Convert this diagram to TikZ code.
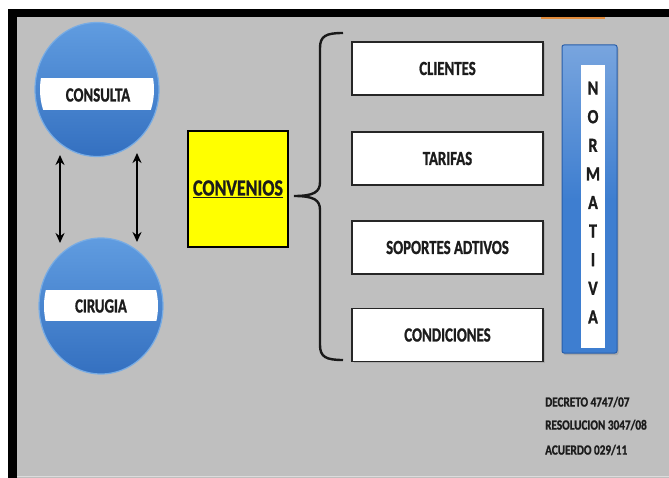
\documentclass[tikz,border=0pt]{standalone}
\usepackage{fontspec}
\usepackage{graphicx}
\setmainfont{Carlito}[BoldFeatures={FakeBold=1.3}]
\usetikzlibrary{shapes.geometric,arrows.meta,shadows}

\definecolor{bggray}{RGB}{191,191,191}
\definecolor{disctop}{RGB}{96,156,224}
\definecolor{discbot}{RGB}{52,112,192}
\definecolor{discrim}{RGB}{120,172,228}
\definecolor{barblue}{RGB}{62,126,208}
\definecolor{baredge}{RGB}{40,94,170}
\definecolor{markorange}{RGB}{226,140,60}
\definecolor{conyellow}{RGB}{255,255,0}
\definecolor{inkdark}{RGB}{28,28,28}

% horizontally condensed label text
\newcommand{\sqz}[2][0.74]{\scalebox{#1}[1]{#2}}

\begin{document}
\begin{tikzpicture}[x=1pt,y=-1pt,
  disc/.style={ellipse, inner sep=0pt, minimum width=124pt, minimum height=134pt,
    top color=disctop, bottom color=discbot, draw=discrim, line width=1.2pt},
  disclabel/.style={font=\bfseries\fontsize{20}{20}\selectfont, text=inkdark, inner sep=0pt},
  itembox/.style={draw=black!85, line width=1.6pt, fill=white, minimum width=191pt,
    minimum height=53pt, inner sep=0pt, font=\bfseries\fontsize{20}{20}\selectfont,
    text=inkdark, drop shadow={opacity=0.3, shadow xshift=1.5pt, shadow yshift=-1.5pt}},
  linkarrow/.style={line width=2pt, {Stealth[length=10pt,width=9pt]}-{Stealth[length=10pt,width=9pt]}},
  lawtext/.style={anchor=west, inner sep=0pt, font=\bfseries\fontsize{14}{14}\selectfont, text=inkdark}
]
\useasboundingbox (0,0) rectangle (669,478);

% page, frame and grey slide area
\fill[white] (0,0) rectangle (669,478);
\fill[black] (8,9) rectangle (669,478);
\fill[bggray] (17,17) rectangle (669,478);
\draw[white!45!bggray, line width=1pt] (17,476.5) -- (669,476.5);
\draw[markorange, line width=2pt] (541,18) -- (605,18);

% the two round badges with their white bands
\node[disc] (consulta) at (97,89.5) {};
\begin{scope}
  \clip (97,89.5) ellipse [x radius=57, y radius=62];
  \fill[white] (30,78) rectangle (170,110);
\end{scope}
\node[disclabel] (consultaT) at (98,95) {\sqz{CONSULTA}};

\node[disc, minimum height=136pt] (cirugia) at (101,306) {};
\begin{scope}
  \clip (101,306) ellipse [x radius=57, y radius=63];
  \fill[white] (30,290) rectangle (170,321);
\end{scope}
\node[disclabel] (cirugiaT) at (101,306) {\sqz{CIRUGIA}};

% two-way links between the badges
\coordinate (la) at (60,155);
\coordinate (lb) at (60,243);
\coordinate (ra) at (137,153);
\coordinate (rb) at (137,242);
\draw[linkarrow] (la) -- (lb);
\draw[linkarrow] (ra) -- (rb);

% central yellow box
\node[draw=black, line width=1.2pt, fill=conyellow, minimum width=100pt, minimum height=116pt,
      inner sep=0pt, font=\bfseries\fontsize{23}{23}\selectfont, text=inkdark] (convenios)
      at (238,189) {\sqz[0.78]{\underline{CONVENIOS}}};

% curly brace
\coordinate (bt) at (343,33);
\coordinate (bb) at (343,360);
\coordinate (btip) at (294,196);
\draw[line width=2.4pt, black!90] (bt) .. controls (326,33) and (320,36) .. (320,48)
  -- (320,182) .. controls (320,192) and (314,196) .. (btip)
  (btip) .. controls (314,196) and (320,200) .. (320,210)
  -- (320,345) .. controls (320,357) and (326,360) .. (bb);

% item boxes
\node[itembox] (clientes) at (447.5,68.5) {\sqz{CLIENTES}};
\node[itembox] (tarifas) at (447.5,158.5) {\sqz{TARIFAS}};
\node[itembox] (soportes) at (447.5,247.5) {\sqz{SOPORTES ADTIVOS}};
\node[itembox] (condiciones) at (447.5,335) {\sqz{CONDICIONES}};

% vertical regulation bar
\node[draw=baredge, line width=1pt, top color=barblue!70!white, bottom color=barblue,
      middle color=barblue, rounded corners=2pt, minimum width=55pt, minimum height=308pt,
      inner sep=0pt, drop shadow={opacity=0.35, shadow xshift=1.5pt, shadow yshift=-2pt}]
      (normbar) at (589.5,199) {};
\node[fill=white, minimum width=24pt, minimum height=283pt, inner sep=0pt] (normstrip)
      at (593,206.5) {};
\node[align=center, inner sep=0pt, font=\bfseries\fontsize{20}{28.6}\selectfont, text=inkdark]
      (normtext) at (593,202.5)
      {\sqz[0.8]{N}\\\sqz[0.8]{O}\\\sqz[0.8]{R}\\\sqz[0.8]{M}\\\sqz[0.8]{A}\\\sqz[0.8]{T}\\\sqz[0.8]{I}\\\sqz[0.8]{V}\\\sqz[0.8]{A}};

% legal references
\node[lawtext] (decreto) at (545,402) {\sqz[0.8]{DECRETO 4747/07}};
\node[lawtext] (resolucion) at (545,425) {\sqz[0.8]{RESOLUCION 3047/08}};
\node[lawtext] (acuerdo) at (545,450) {\sqz[0.8]{ACUERDO 029/11}};
\end{tikzpicture}
\end{document}
